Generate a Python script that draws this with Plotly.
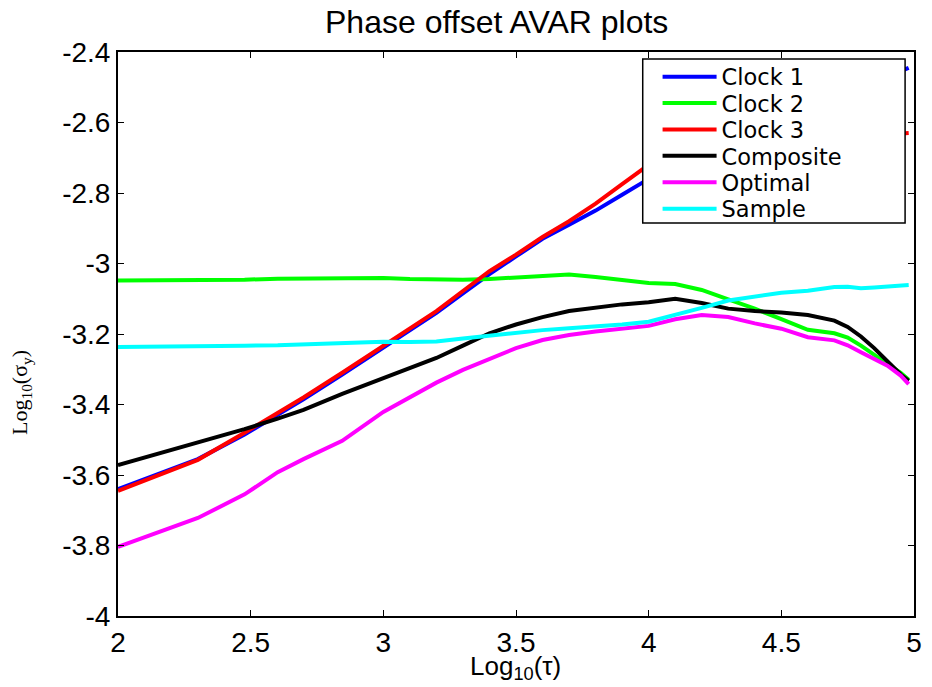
import plotly.graph_objects as go

# log10(tau) sample points
log_tau = [2.0, 2.301, 2.477, 2.602, 2.699, 2.845, 3.0, 3.1, 3.2, 3.3, 3.4, 3.5,
           3.6, 3.7, 3.8, 3.9, 4.0, 4.1, 4.2, 4.3, 4.4, 4.5, 4.6, 4.7, 4.75,
           4.8, 4.85, 4.9, 4.95, 4.98]

clock1 = [-3.64, -3.555, -3.485, -3.43, -3.385, -3.315, -3.24, -3.19, -3.14, -3.085,
          -3.03, -2.98, -2.93, -2.89, -2.85, -2.805, -2.76, -2.725, -2.69, -2.655,
          -2.62, -2.59, -2.56, -2.53, -2.515, -2.5, -2.485, -2.47, -2.455, -2.445]

clock2 = [-3.048, -3.048, -3.046, -3.043, -3.042, -3.041, -3.041, -3.044, -3.046, -3.046,
          -3.044, -3.04, -3.037, -3.031, -3.038, -3.046, -3.055, -3.058, -3.075, -3.102,
          -3.128, -3.158, -3.188, -3.198, -3.21, -3.233, -3.26, -3.285, -3.31, -3.33]

clock3 = [-3.645, -3.557, -3.48, -3.425, -3.38, -3.31, -3.235, -3.185, -3.135, -3.078,
          -3.022, -2.975, -2.925, -2.88, -2.83, -2.775, -2.72, -2.695, -2.68, -2.67,
          -2.66, -2.655, -2.65, -2.645, -2.64, -2.64, -2.635, -2.635, -2.63, -2.63]

composite = [-3.572, -3.509, -3.47, -3.44, -3.415, -3.37, -3.325, -3.295, -3.268, -3.233,
             -3.198, -3.173, -3.152, -3.135, -3.125, -3.116, -3.11, -3.1, -3.112, -3.128,
             -3.135, -3.139, -3.146, -3.162, -3.18, -3.207, -3.24, -3.278, -3.315, -3.333]

optimal = [-3.804, -3.722, -3.655, -3.592, -3.555, -3.503, -3.421, -3.38, -3.338, -3.302,
           -3.27, -3.24, -3.217, -3.203, -3.193, -3.186, -3.177, -3.158, -3.146, -3.152,
           -3.17, -3.185, -3.209, -3.218, -3.232, -3.252, -3.27, -3.29, -3.318, -3.342]

sample = [-3.237, -3.236, -3.233, -3.232, -3.229, -3.226, -3.222, -3.223, -3.221, -3.213,
          -3.205, -3.195, -3.189, -3.184, -3.179, -3.173, -3.165, -3.146, -3.126, -3.105,
          -3.094, -3.083, -3.077, -3.067, -3.066, -3.07, -3.068, -3.065, -3.062, -3.061]

series_names = ["Clock 1", "Clock 2", "Clock 3", "Composite", "Optimal", "Sample"]
series_colors = ["#0000ff", "#00ff00", "#ff0000", "#000000", "#ff00ff", "#00ffff"]
series_values = [clock1, clock2, clock3, composite, optimal, sample]

x_ticks = [2, 2.5, 3, 3.5, 4, 4.5, 5]
x_tick_text = ["2", "2.5", "3", "3.5", "4", "4.5", "5"]
y_ticks = [-2.4, -2.6, -2.8, -3.0, -3.2, -3.4, -3.6, -3.8, -4.0]
y_tick_text = ["-2.4", "-2.6", "-2.8", "-3", "-3.2", "-3.4", "-3.6", "-3.8", "-4"]

SANS = "Liberation Sans, Arial, sans-serif"

W, H = 932, 687
L, R, T, B = 118, 10, 52, 71
PW, PH = W - L - R, H - T - B


def px_x(p):
    return (p - L) / PW


def px_y(p):
    return (H - B - p) / PH


# vertical centre (in pixels) of each legend row
legend_rows = [77, 103.4, 129.8, 156.2, 182.6, 209]

fig = go.Figure()
layout_legends = {}
for i, (name, color, vals) in enumerate(zip(series_names, series_colors, series_values)):
    key = "legend" if i == 0 else f"legend{i + 1}"
    fig.add_trace(go.Scatter(x=log_tau, y=vals, mode="lines", name=name, legend=key,
                             line=dict(color=color, width=4)))
    layout_legends[key] = dict(
        x=px_x(663), y=px_y(legend_rows[i]), xanchor="left", yanchor="middle",
        bgcolor="rgba(0,0,0,0)", borderwidth=0,
        font=dict(family="DejaVu Sans, sans-serif", size=22.5, color="black"),
        itemwidth=54)

axis_common = dict(showgrid=False, zeroline=False, showline=True, linecolor="black",
                   linewidth=2, mirror="ticks", ticks="inside", ticklen=6,
                   tickcolor="black", tickwidth=1,
                   tickfont=dict(family=SANS, size=28, color="black"))

fig.update_layout(
    width=W, height=H,
    margin=dict(l=L, r=R, t=T, b=B),
    paper_bgcolor="white", plot_bgcolor="white",
    showlegend=True,
    # opaque white legend frame covering the lines beneath it
    shapes=[dict(type="rect", xref="paper", yref="paper",
                 x0=px_x(648), x1=px_x(913), y0=px_y(223), y1=px_y(59),
                 fillcolor="white", line=dict(color="black", width=1.5),
                 layer="above")],
    xaxis=dict(range=[2, 5], tickvals=x_ticks, ticktext=x_tick_text, **axis_common),
    yaxis=dict(range=[-4, -2.4], tickvals=y_ticks, ticktext=y_tick_text, **axis_common),
    annotations=[
        dict(text="Phase offset AVAR plots", xref="paper", yref="paper",
             x=px_x(500), y=1, yshift=10, xanchor="center", yanchor="bottom",
             showarrow=False, font=dict(family=SANS, size=32, color="black")),
        dict(text="Log<sub>10</sub>(τ)", xref="paper", yref="paper",
             x=px_x(519), y=0, yshift=-33, xanchor="center", yanchor="top",
             showarrow=False, font=dict(family=SANS, size=26, color="black")),
        dict(text="Log<sub>10</sub>(σ<sub>y</sub>)", xref="paper", yref="paper",
             x=0, xshift=-(L - 21), y=px_y(393),
             xanchor="center", yanchor="middle", textangle=-90,
             showarrow=False,
             font=dict(family="Liberation Serif, Times New Roman, serif", size=22,
                       color="black")),
    ],
    **layout_legends,
)

fig.write_html("out.html")
